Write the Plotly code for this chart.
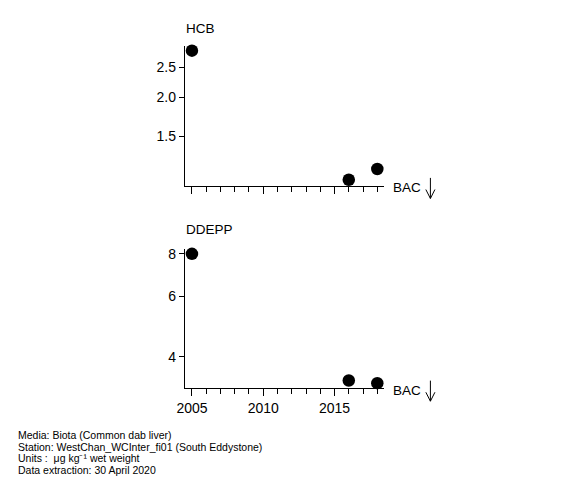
import plotly.graph_objects as go

# data
years = [2005, 2016, 2018]
hcb = [2.82, 1.09, 1.18]
ddepp = [8.0, 3.41, 3.35]

hcb_ticks = [1.5, 2.0, 2.5]
ddepp_ticks = [4, 6, 8]
year_ticks = [2005, 2010, 2015]

footer = [
    "Media: Biota (Common dab liver)",
    "Station: WestChan_WCInter_fi01 (South Eddystone)",
    "Units :  \u03bcg kg\u207b\u00b9 wet weight",
    "Data extraction: 30 April 2020",
]

W, H = 580, 480
FONT = "Liberation Sans, Arial, sans-serif"


def px(x):
    return x / W


def py(y):
    return 1 - y / H


fig = go.Figure()
fig.add_trace(go.Scatter(x=years, y=hcb, mode="markers", xaxis="x", yaxis="y",
                         marker=dict(color="black", size=12.5), cliponaxis=False))
fig.add_trace(go.Scatter(x=years, y=ddepp, mode="markers", xaxis="x2", yaxis="y2",
                         marker=dict(color="black", size=12.5), cliponaxis=False))

xdom = [px(179.3), px(381.7)]
xcommon = dict(range=[2004.5, 2018.5], showgrid=False, zeroline=False,
               showline=True, linecolor="black", linewidth=1,
               ticks="outside", ticklen=7, tickcolor="black",
               tickvals=year_ticks,
               minor=dict(dtick=1, tick0=2005, ticks="outside", ticklen=5, tickcolor="black", showgrid=False),
               tickfont=dict(size=14, color="black", family=FONT), domain=xdom)
ycommon = dict(type="log", showgrid=False, zeroline=False, showline=True,
               linecolor="black", linewidth=1, ticks="outside", ticklen=5,
               tickcolor="black", tickfont=dict(size=14, color="black", family=FONT))

fig.update_layout(
    width=W, height=H,
    margin=dict(l=0, r=0, t=0, b=0),
    paper_bgcolor="white", plot_bgcolor="white",
    showlegend=False,
    font=dict(family=FONT, color="black"),
    xaxis=dict(xcommon, anchor="y", showticklabels=False),
    xaxis2=dict(xcommon, anchor="y2"),
    yaxis=dict(ycommon, domain=[py(184), py(43)], range=[0.018, 0.466],
               tickvals=hcb_ticks, ticktext=["1.5", "2.0", "2.5"], anchor="x"),
    yaxis2=dict(ycommon, domain=[py(387.7), py(247.3)], range=[0.510, 0.918],
                tickvals=ddepp_ticks, ticktext=["4", "6", "8"], anchor="x2"),
)

# panel titles
for name, yt in [("HCB", 26), ("DDEPP", 228)]:
    fig.add_annotation(text=name, xref="paper", yref="paper", x=px(178),
                       y=py(yt), xanchor="left", yanchor="middle", showarrow=False,
                       font=dict(size=13.5, color="black", family=FONT))

# BAC labels with down arrows
for yb in [186, 390]:
    fig.add_annotation(text="BAC", xref="paper", yref="paper", x=px(388), y=py(yb),
                       xanchor="left", yanchor="middle", showarrow=False,
                       font=dict(size=13.5, color="black", family=FONT))
    top, bot = yb - 10, yb + 10.7
    fig.add_shape(type="line", xref="paper", yref="paper",
                  x0=px(428.3), x1=px(428.3), y0=py(top), y1=py(bot),
                  line=dict(color="black", width=1))
    fig.add_shape(type="path", xref="paper", yref="paper",
                  path=f"M {px(423.7)},{py(bot - 9)} L {px(428.3)},{py(bot)} L {px(432.9)},{py(bot - 9)}",
                  line=dict(color="black", width=1))

# footer
for i, line in enumerate(footer):
    fig.add_annotation(text=line, xref="paper", yref="paper", x=px(8), y=py(435 + i * 11.5),
                       xanchor="left", yanchor="middle", showarrow=False,
                       font=dict(size=10.5, color="black", family=FONT))

# drop the page margin so the figure sits at the top-left corner
fig.write_html("out.html", post_script="document.body.style.margin='0';",
               config={"displayModeBar": False})
